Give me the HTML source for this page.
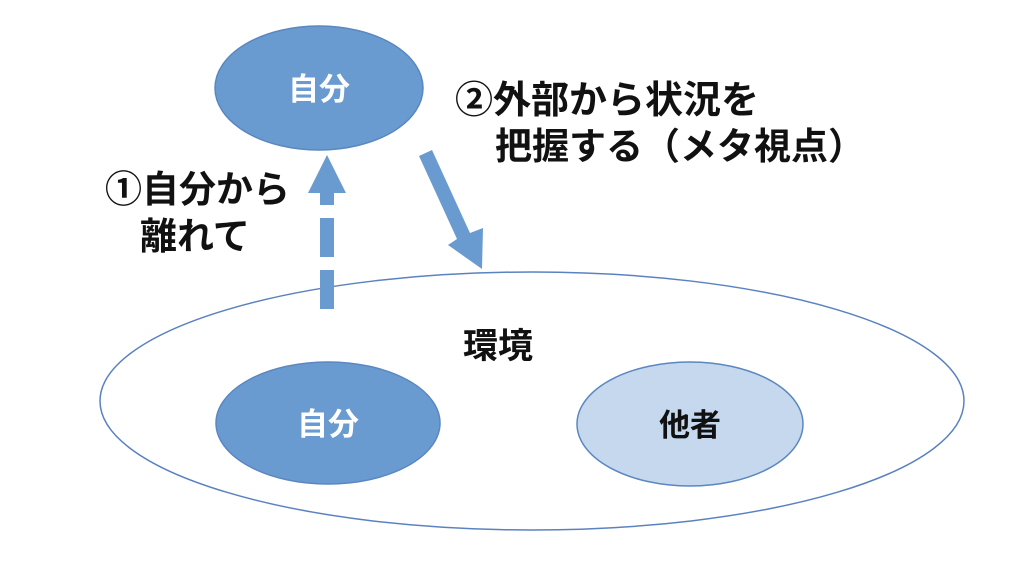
<!DOCTYPE html>
<html><head><meta charset="utf-8"><style>
body{margin:0;background:#fff;width:1024px;height:571px;overflow:hidden}
svg text{font-family:"Liberation Sans","Noto Sans CJK JP",sans-serif;font-weight:bold}
</style></head><body>
<svg width="1024" height="571" viewBox="0 0 1024 571">
<ellipse cx="532" cy="401" rx="432" ry="129" fill="#fff" stroke="#5b82c0" stroke-width="1.5"/>
<ellipse cx="319" cy="88" rx="104" ry="62" fill="#6a9bd0" stroke="#5a87c0" stroke-width="1.5"/>
<ellipse cx="328" cy="423" rx="112" ry="61" fill="#6a9bd0" stroke="#5a87c0" stroke-width="1.5"/>
<ellipse cx="690" cy="424" rx="113" ry="62" fill="#c5d8ee" stroke="#5a87c0" stroke-width="1.5"/>
<g fill="#6a9bd0">
<polygon points="327,155 346,193 308,193"/>
<rect x="320" y="193" width="14" height="12"/>
<rect x="320" y="218" width="14" height="39"/>
<rect x="320" y="270" width="14" height="39"/>
<polygon points="419,156 432,150 470,233 483,228 482,269 448,245 457,239"/>
</g>
<text x="319" y="100" font-size="31" fill="#fff" text-anchor="middle">自分</text>
<text x="328" y="435" font-size="31" fill="#fff" text-anchor="middle">自分</text>
<text x="690" y="436" font-size="31" fill="#111" text-anchor="middle">他者</text>
<text x="498" y="358" font-size="35" fill="#111" text-anchor="middle">環境</text>
<text x="455" y="113" font-size="38" fill="#111">②外部から状況を</text>
<text x="495" y="159" font-size="37" fill="#111">把握する（メタ視点）</text>
<text x="105" y="202" font-size="37" fill="#111">①自分から</text>
<text x="140" y="249" font-size="37" fill="#111">離れて</text>
</svg>
</body></html>
